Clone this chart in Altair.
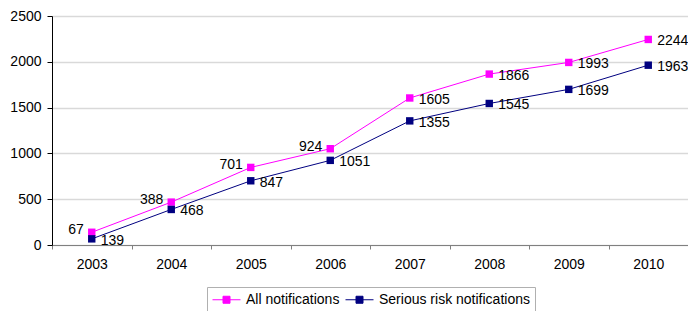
import altair as alt
import pandas as pd

years = ["2003", "2004", "2005", "2006", "2007", "2008", "2009", "2010"]
all_vals = [139, 468, 847, 1051, 1605, 1866, 1993, 2244]
serious_vals = [67, 388, 701, 924, 1355, 1545, 1699, 1963]
series_names = ["All notifications", "Serious risk notifications"]
swapped_years = ["2003", "2004", "2005", "2006"]

rows = []
for y, a, s in zip(years, all_vals, serious_vals):
    rows.append({"year": y, "value": a, "series": series_names[0]})
    rows.append({"year": y, "value": s, "series": series_names[1]})
df = pd.DataFrame(rows)

lab = []
for y, a, s in zip(years, all_vals, serious_vals):
    if y in swapped_years:
        lab.append({"year": y, "value": a, "text": str(s), "side": "left"})
        lab.append({"year": y, "value": s, "text": str(a), "side": "right"})
    else:
        lab.append({"year": y, "value": a, "text": str(a), "side": "right"})
        lab.append({"year": y, "value": s, "text": str(s), "side": "right"})
ldf = pd.DataFrame(lab)

FONT = "Liberation Sans"

xenc = alt.X("year:O", title=None, bandPosition=0.5,
             scale=alt.Scale(type="band", domain=years, paddingInner=0, paddingOuter=0),
             axis=alt.Axis(labelAngle=0, tickBand="extent", tickSize=4, labelPadding=8,
                           domainColor="#808080", tickColor="#808080", grid=False,
                           labelFontSize=14, labelFont=FONT, labelColor="#000000"))
yenc = alt.Y("value:Q", title=None,
             scale=alt.Scale(domain=[0, 2500], nice=False),
             axis=alt.Axis(values=[0, 500, 1000, 1500, 2000, 2500], format="d",
                           tickSize=5, labelPadding=6,
                           domainColor="#000000", tickColor="#000000", gridColor="#d9d9d9",
                           gridWidth=1.5, labelFontSize=14, labelFont=FONT, labelColor="#000000"))
color = alt.Color("series:N", title=None,
                  scale=alt.Scale(domain=series_names, range=["#ff00ff", "#000080"]),
                  legend=alt.Legend(orient="none", legendX=155, legendY=271, direction="horizontal",
                                    symbolType="M-2,0H2M-0.5,-0.5H0.5V0.5H-0.5Z",
                                    symbolSize=196, symbolStrokeWidth=1, symbolOffset=7,
                                    labelFontSize=14, labelFont=FONT, labelColor="#000000",
                                    strokeColor="#b0b0b0", padding=5, columnPadding=3,
                                    labelOffset=12))

base = alt.Chart(df)
lines = base.mark_line(strokeWidth=1).encode(x=xenc, y=yenc, color=color)
points = base.mark_point(shape="square", filled=True, size=55, opacity=1).encode(
    x=xenc, y=yenc, color=color)

lt = alt.Chart(ldf)
left_labels = lt.transform_filter(alt.datum.side == "left").mark_text(
    align="right", baseline="middle", dx=-8, dy=-2, fontSize=14, font=FONT, color="#000000"
).encode(x=xenc, y=yenc, text="text:N")
right_labels = lt.transform_filter(alt.datum.side == "right").mark_text(
    align="left", baseline="middle", dx=9, dy=2, fontSize=14, font=FONT, color="#000000"
).encode(x=xenc, y=yenc, text="text:N")

chart = alt.layer(lines, points, left_labels, right_labels).properties(
    width=636, height=229,
    autosize=alt.AutoSizeParams(type="none"),
    padding={"left": 44, "top": 8, "right": 0, "bottom": 66},
).configure_view(stroke=None).configure(background="#ffffff")

chart.save("out.html", embed_options={"renderer": "svg", "actions": False})
